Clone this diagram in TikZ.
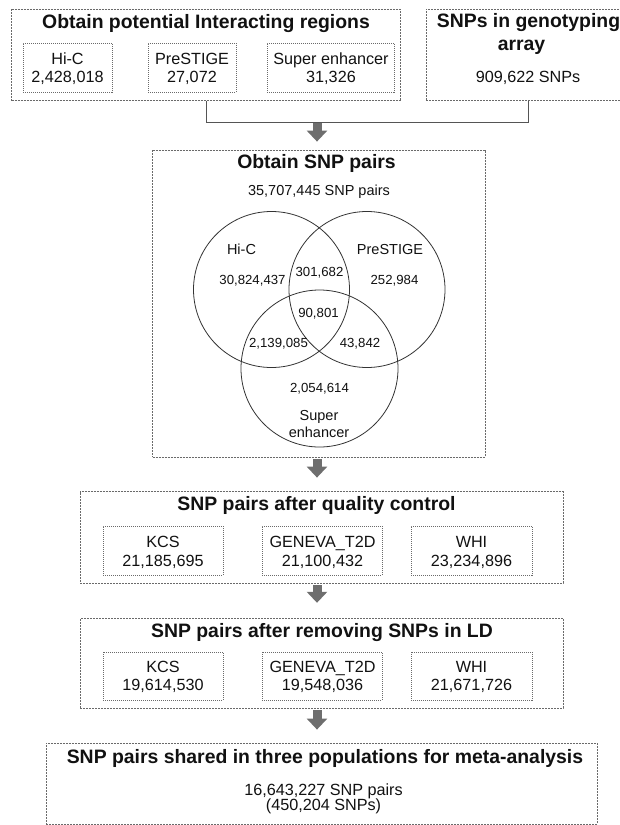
\documentclass[tikz,border=0pt]{standalone}
\usepackage{fontspec}
\setmainfont{Liberation Sans}
\usetikzlibrary{arrows.meta}
\definecolor{boxgray}{HTML}{6A6A6A}
\definecolor{arrgray}{HTML}{6E6E6E}
\definecolor{linegray}{HTML}{555555}
\definecolor{circgray}{HTML}{333333}
\definecolor{txt}{HTML}{111111}
\begin{document}
\begin{tikzpicture}[x=1pt,y=-1pt,
  outerbox/.style={draw=boxgray, line width=0.8pt, dash pattern=on 2pt off 1pt, inner sep=0pt},
  innerbox/.style={draw=boxgray, line width=0.6pt, dash pattern=on 1pt off 1pt, inner sep=0pt},
  ttl/.style={anchor=base, inner sep=0pt, font=\fontsize{19.4}{23}\selectfont\bfseries, text=txt},
  body/.style={anchor=base, inner sep=0pt, font=\fontsize{16.2}{19}\selectfont, text=txt},
  sub/.style={anchor=base, inner sep=0pt, font=\fontsize{14.5}{17}\selectfont, text=txt},
  vnum/.style={anchor=base, inner sep=0pt, font=\fontsize{13.2}{16}\selectfont, text=txt},
  vcirc/.style={draw=circgray, line width=0.8pt},
  conn/.style={draw=linegray, line width=1.2pt},
  bigarrow/.style={draw=arrgray, line width=9pt, -{Triangle[width=20pt,length=11pt]}}]
\useasboundingbox (0,0) rectangle (620,825);

% --- top left box
\node[outerbox, minimum width=389pt, minimum height=91.7pt] (b1) at (206.2,54.85) {};
\node[ttl] (t1) at (206,28.3) {Obtain potential Interacting regions};
\node[innerbox, minimum width=89pt, minimum height=49pt] (hic) at (67.5,67.5) {};
\node[innerbox, minimum width=88pt, minimum height=49pt] (pre) at (192,67.5) {};
\node[innerbox, minimum width=127pt, minimum height=49pt] (sup) at (330.5,67.5) {};
\node[body] (hicA) at (67.5,64) {Hi-C};
\node[body] (hicB) at (67.5,82.7) {2,428,018};
\node[body] (preA) at (192,64) {PreSTIGE};
\node[body] (preB) at (192,82.7) {27,072};
\node[body] (supA) at (331,64) {Super enhancer};
\node[body] (supB) at (331,82.7) {31,326};

% --- top right box
\node[outerbox, minimum width=205pt, minimum height=91.7pt] (b2) at (528.5,54.85) {};
\node[ttl] (t2a) at (528.5,27.5) {SNPs in genotyping};
\node[ttl] (t2b) at (521.5,50.5) {array};
\node[body] (t2c) at (528,82.7) {909,622 SNPs};

% --- connectors
\coordinate (jn) at (317,122.5);
\draw[conn] (b1.south) |- (jn) -| (b2.south);

% --- SNP pairs box with Venn
\node[outerbox, minimum width=332.3pt, minimum height=307pt] (b3) at (318.85,303.5) {};
\node[ttl] (t3) at (316.5,168) {Obtain SNP pairs};
\node[sub] (t3b) at (319,195) {35,707,445 SNP pairs};
\draw[bigarrow, shorten <=0.5pt, shorten >=8pt] (jn) -- (b3.north -| jn);

\node[vcirc, circle, minimum size=156pt, inner sep=0pt] (cH) at (271.5,289.5) {};
\node[vcirc, circle, minimum size=156pt, inner sep=0pt] (cP) at (367,289.5) {};
\node[vcirc, circle, minimum size=157pt, inner sep=0pt] (cS) at (319.5,368.5) {};
\node[sub] (lH) at (241.5,254) {Hi-C};
\node[sub] (lP) at (390,254) {PreSTIGE};
\node[vnum] (n1) at (252.5,284) {30,824,437};
\node[vnum] (n2) at (319.5,276.7) {301,682};
\node[vnum] (n3) at (394.5,284) {252,984};
\node[vnum] (n4) at (318.5,317) {90,801};
\node[vnum] (n5) at (278.5,347) {2,139,085};
\node[vnum] (n6) at (360,347) {43,842};
\node[vnum] (n7) at (319.5,392) {2,054,614};
\node[sub] (lS1) at (319,420) {Super};
\node[sub] (lS2) at (319,437) {enhancer};

% --- QC box
\coordinate (ax) at (317,0);
\node[outerbox, minimum width=483pt, minimum height=91.3pt] (qc) at (321.5,537.35) {};
\node[ttl] (t4) at (316.5,510) {SNP pairs after quality control};
\node[innerbox, minimum width=120pt, minimum height=49pt] (q1) at (163,550.5) {};
\node[innerbox, minimum width=120pt, minimum height=49pt] (q2) at (322,550.5) {};
\node[innerbox, minimum width=121pt, minimum height=49pt] (q3) at (471.5,550.5) {};
\node[body] (q1a) at (163,547) {KCS};
\node[body] (q1b) at (163,566) {21,185,695};
\node[body] (q2a) at (322.5,547) {GENEVA\_T2D};
\node[body] (q2b) at (322.5,566) {21,100,432};
\node[body] (q3a) at (471.5,547) {WHI};
\node[body] (q3b) at (471.5,566) {23,234,896};
\draw[bigarrow, shorten <=2pt, shorten >=13.7pt] (b3.south -| ax) -- (qc.north -| ax);

% --- LD box
\node[outerbox, minimum width=483pt, minimum height=89.6pt] (ld) at (321.5,663.5) {};
\node[ttl] (t5) at (322,637) {SNP pairs after removing SNPs in LD};
\node[innerbox, minimum width=120pt, minimum height=48pt] (l1) at (163,676) {};
\node[innerbox, minimum width=120pt, minimum height=48pt] (l2) at (322,676) {};
\node[innerbox, minimum width=121pt, minimum height=48pt] (l3) at (471.5,676) {};
\node[body] (l1a) at (163,672) {KCS};
\node[body] (l1b) at (163,690.7) {19,614,530};
\node[body] (l2a) at (322.5,672) {GENEVA\_T2D};
\node[body] (l2b) at (322.5,690.7) {19,548,036};
\node[body] (l3a) at (471.5,672) {WHI};
\node[body] (l3b) at (471.5,690.7) {21,671,726};
\draw[bigarrow, shorten <=2pt, shorten >=15.5pt] (qc.south -| ax) -- (ld.north -| ax);

% --- final box
\node[outerbox, minimum width=551pt, minimum height=81pt] (fin) at (321.5,783.5) {};
\node[ttl] (t6) at (325,763) {SNP pairs shared in three populations for meta-analysis};
\node[body] (f1) at (323.5,795) {16,643,227 SNP pairs};
\node[body] (f2) at (323.5,810) {(450,204 SNPs)};
\draw[bigarrow, shorten <=1.7pt, shorten >=13pt] (ld.south -| ax) -- (fin.north -| ax);
\end{tikzpicture}
\end{document}
